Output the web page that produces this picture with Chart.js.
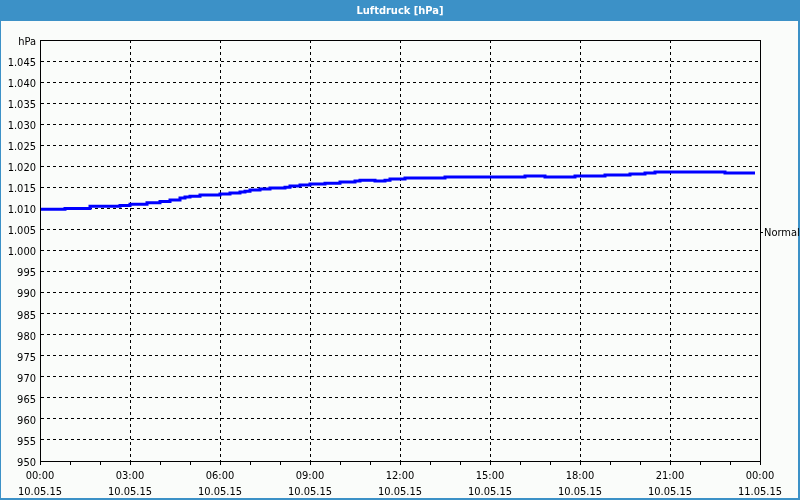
<!DOCTYPE html>
<html>
<head>
<meta charset="utf-8">
<script src="https://cdn.jsdelivr.net/npm/chart.js@4"></script>
<style>
html,body{margin:0;padding:0;background:#fafcfa;}
#wrap{position:relative;width:800px;height:500px;}
</style>
</head>
<body>
<div id="wrap"><canvas id="c" width="800" height="500"></canvas></div>
<script>
// Time in minutes since 10.05.15 00:00
const minutes = [0, 50, 100, 160, 180, 214, 240, 260, 280, 290, 300, 320, 360, 380, 400, 410, 420, 440, 460, 490, 500, 520, 540, 570, 600, 630, 640, 670, 690, 700, 730, 810, 970, 1010, 1070, 1130, 1180, 1210, 1230, 1370, 1430];
const pressure = [1009.8, 1010.0, 1010.5, 1010.7, 1011.0, 1011.35, 1011.65, 1012.0, 1012.45, 1012.7, 1012.9, 1013.2, 1013.4, 1013.65, 1013.9, 1014.1, 1014.35, 1014.6, 1014.85, 1015.05, 1015.3, 1015.55, 1015.8, 1016.0, 1016.3, 1016.5, 1016.7, 1016.5, 1016.7, 1017.0, 1017.2, 1017.45, 1017.7, 1017.45, 1017.7, 1017.95, 1018.2, 1018.4, 1018.65, 1018.4, 1018.4];
const timeLabels = {0:['00:00','10.05.15'],180:['03:00','10.05.15'],360:['06:00','10.05.15'],540:['09:00','10.05.15'],720:['12:00','10.05.15'],900:['15:00','10.05.15'],1080:['18:00','10.05.15'],1260:['21:00','10.05.15'],1440:['00:00','11.05.15']};
const normalValue = 1004.3;
const seriesName = 'Luftdruck';
const chartTitle = 'Luftdruck [hPa]';

const points = minutes.map((m, i) => ({x: m, y: pressure[i]}));

const frame = {
  id: 'frame',
  beforeDraw(chart) {
    const ctx = chart.ctx;
    ctx.save();
    ctx.fillStyle = '#fafcfa';
    ctx.fillRect(0, 0, 800, 500);
    ctx.fillStyle = '#3c91c7';
    ctx.fillRect(0, 0, 800, 21);
    ctx.fillRect(0, 0, 1, 500);
    ctx.fillRect(798, 0, 2, 500);
    ctx.fillRect(0, 498, 800, 2);
    ctx.restore();
  },
  afterDatasetsDraw(chart) {
    const a = chart.chartArea, ctx = chart.ctx;
    ctx.save();
    ctx.strokeStyle = '#000';
    ctx.lineWidth = 1;
    ctx.strokeRect(Math.round(a.left) + 0.5, Math.round(a.top) + 0.5, Math.round(a.right - a.left), Math.round(a.bottom - a.top));
    ctx.restore();
  }
};

const fam = "'DejaVu Sans Condensed', 'DejaVu Sans', sans-serif";
const font = {family: fam, size: 11};

new Chart(document.getElementById('c'), {
  type: 'line',
  data: {
    datasets: [{
      label: seriesName,
      data: points,
      borderColor: '#0000ff',
      borderWidth: 3,
      pointRadius: 0,
      stepped: 'before',
      fill: false
    }]
  },
  options: {
    responsive: false,
    animation: false,
    devicePixelRatio: 1,
    layout: {padding: 0},
    plugins: {
      legend: {display: false},
      tooltip: {enabled: false},
      title: {
        display: true,
        text: chartTitle,
        color: '#ffffff',
        font: {family: fam, size: 11, weight: 'bold'},
        padding: {top: 4.5, bottom: 22.3}
      }
    },
    scales: {
      x: {
        type: 'linear',
        min: 0, max: 1440,
        afterBuildTicks(scale) {
          const t = [];
          for (let m = 0; m <= 1440; m += 60) t.push({value: m});
          scale.ticks = t;
        },
        afterFit(scale) { scale.height = 39; },
        ticks: {
          autoSkip: false,
          maxRotation: 0,
          padding: 3,
          color: '#000',
          font: {family: fam, size: 11, lineHeight: 1.45},
          callback: (v) => timeLabels[v] || ''
        },
        grid: {
          color: (c) => (c.tick && c.tick.value % 180 === 0 && c.tick.value > 0 && c.tick.value < 1440) ? '#000' : 'rgba(0,0,0,0)',
          tickColor: '#000',
          tickLength: 4,
          lineWidth: 1
        },
        border: {display: true, color: '#000', dash: [3, 3]}
      },
      y: {
        type: 'linear',
        position: 'left',
        min: 950, max: 1050,
        afterBuildTicks(scale) {
          const t = [];
          for (let v = 950; v <= 1050; v += 5) t.push({value: v});
          scale.ticks = t;
        },
        afterFit(scale) { scale.width = 40; },
        ticks: {
          autoSkip: false,
          padding: 4,
          labelOffset: 2,
          color: '#000',
          font: font,
          callback: (v) => v === 1050 ? 'hPa' : (v >= 1000 ? '1.' + String(v - 1000).padStart(3, '0') : String(v))
        },
        grid: {
          color: (c) => (c.tick && c.tick.value > 950 && c.tick.value < 1050) ? '#000' : 'rgba(0,0,0,0)',
          drawTicks: false,
          lineWidth: 1
        },
        border: {display: true, color: '#000', dash: [3, 3]}
      },
      y2: {
        type: 'linear',
        position: 'right',
        min: 950, max: 1050,
        afterBuildTicks(scale) { scale.ticks = [{value: normalValue}]; },
        afterFit(scale) { scale.width = 40; },
        ticks: {
          autoSkip: false,
          padding: 1,
          labelOffset: 1,
          color: '#000',
          font: font,
          callback: () => 'Normal'
        },
        grid: {drawOnChartArea: false, tickColor: '#000', tickLength: 3},
        border: {display: true, color: '#000'}
      }
    }
  },
  plugins: [frame]
});
</script>
</body>
</html>
